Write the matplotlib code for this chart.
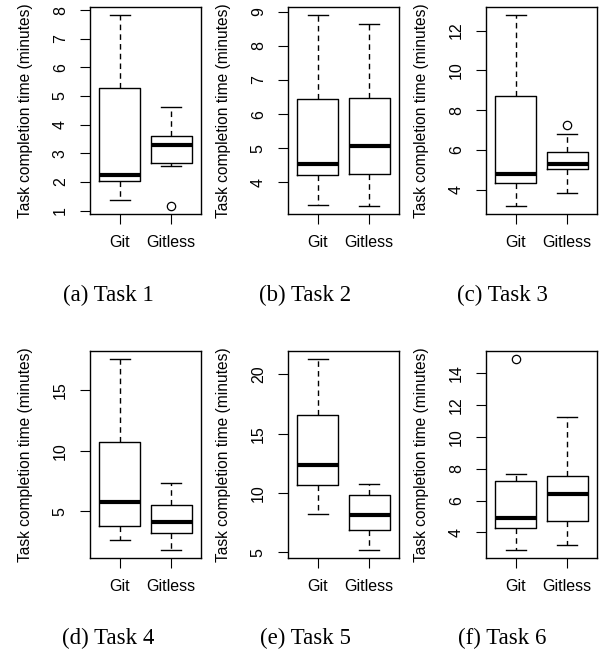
import matplotlib
matplotlib.use("Agg")
import matplotlib.pyplot as plt

groups = ["Git", "Gitless"]
captions = ["(a) Task 1", "(b) Task 2", "(c) Task 3", "(d) Task 4", "(e) Task 5", "(f) Task 6"]

# five-number summaries per task: [whislo, q1, med, q3, whishi] for Git, Gitless
git_stats = [
    [1.36, 2.02, 2.23, 5.27, 7.84],
    [3.33, 4.22, 4.54, 6.44, 8.91],
    [3.16, 4.33, 4.79, 8.69, 12.80],
    [2.60, 3.81, 5.80, 10.75, 17.62],
    [8.21, 10.70, 12.38, 16.54, 21.32],
    [2.87, 4.27, 4.90, 7.20, 7.66],
]
gitless_stats = [
    [2.57, 2.66, 3.28, 3.62, 4.60],
    [3.30, 4.25, 5.07, 6.48, 8.65],
    [3.83, 5.04, 5.31, 5.89, 6.78],
    [1.77, 3.23, 4.09, 5.50, 7.32],
    [5.17, 6.89, 8.18, 9.83, 10.73],
    [3.23, 4.73, 6.42, 7.57, 11.23],
]
git_outliers = [[], [], [], [], [], [14.92]]
gitless_outliers = [[1.15], [], [7.23], [], [], []]

yticks = [
    [1, 2, 3, 4, 5, 6, 7, 8],
    [4, 5, 6, 7, 8, 9],
    [4, 6, 8, 10, 12],
    [5, 10, 15],
    [5, 10, 15, 20],
    [4, 6, 8, 10, 12, 14],
]

W, H = 602, 651
fig = plt.figure(figsize=(W / 100, H / 100), dpi=100)
plt.rcParams["font.family"] = ["Liberation Sans", "DejaVu Sans"]

lefts = [90, 288, 486]
tops = [7, 351]
aw, ah = 111, 207
cap_x = [108, 305, 502]
cap_y = [295, 638]

for i in range(6):
    r, c = divmod(i, 3)
    l, t = lefts[c], tops[r]
    ax = fig.add_axes([l / W, 1 - (t + ah) / H, aw / W, ah / H])
    stats = []
    for s, fl, lab in [(git_stats[i], git_outliers[i], groups[0]),
                       (gitless_stats[i], gitless_outliers[i], groups[1])]:
        stats.append(dict(whislo=s[0], q1=s[1], med=s[2], q3=s[3], whishi=s[4],
                          fliers=fl, label=lab))
    ax.bxp(stats, positions=[1, 2], widths=0.8,
           boxprops=dict(color="black", linewidth=1.0),
           medianprops=dict(color="black", linewidth=3.0, solid_capstyle="butt"),
           whiskerprops=dict(color="black", linewidth=1.0, linestyle=(0, (4, 3))),
           capprops=dict(color="black", linewidth=1.0),
           capwidths=0.4,
           flierprops=dict(marker="o", markersize=6, markerfacecolor="none",
                           markeredgecolor="black", markeredgewidth=0.9))
    allv = git_stats[i] + gitless_stats[i] + git_outliers[i] + gitless_outliers[i]
    lo, hi = min(allv), max(allv)
    pad = 0.04 * (hi - lo)
    ax.set_ylim(lo - pad, hi + pad)
    ax.set_xlim(0.42, 2.58)
    ax.set_yticks(yticks[i])
    ax.set_yticklabels([str(v) for v in yticks[i]], rotation=90, va="center")
    ax.set_xticks([1, 2])
    ax.set_xticklabels(groups)
    ax.tick_params(axis="both", direction="out", length=7, width=0.8, labelsize=11.5,
                   color="black")
    ax.tick_params(axis="y", pad=9)
    ax.tick_params(axis="x", pad=8)
    for sp in ax.spines.values():
        sp.set_linewidth(1.0)
        sp.set_color("black")
    ax.set_ylabel("Task completion time (minutes)", fontsize=11.2)
    ax.yaxis.set_label_coords(-57 / aw, 0.5)
    fig.text(cap_x[c] / W, 1 - cap_y[r] / H, captions[i], ha="center", va="center",
             fontsize=16.5, family=["Liberation Serif", "DejaVu Serif"])

fig.savefig("out.png", dpi=100)
